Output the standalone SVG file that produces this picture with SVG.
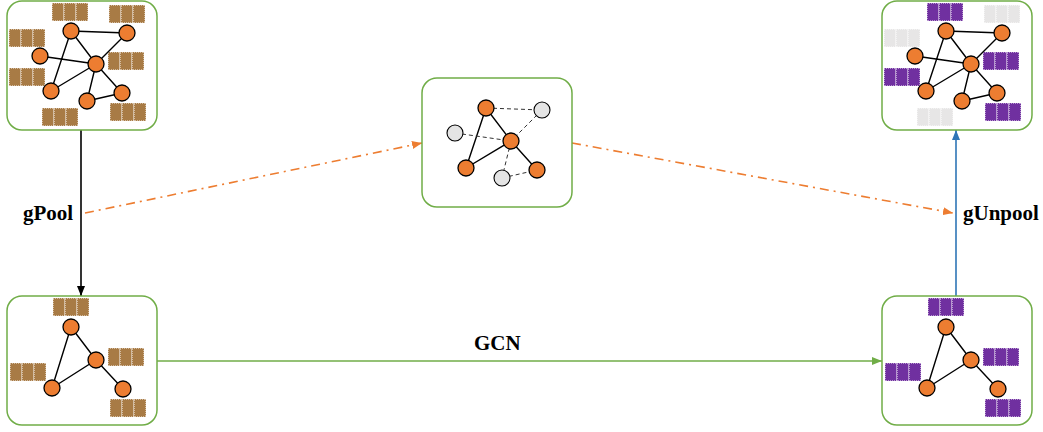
<svg xmlns="http://www.w3.org/2000/svg" xmlns:xlink="http://www.w3.org/1999/xlink" width="1043" height="432" viewBox="0 0 1043 432">
<style>
.box{fill:#fff;stroke:#70AD47;stroke-width:1.5}
.e{stroke:#000;stroke-width:1.4;fill:none}
.d{stroke:#333;stroke-width:1;stroke-dasharray:4,3;fill:none}
.n{fill:#ED7D31;stroke:#000;stroke-width:1.3}
.g{fill:#E4E4E4;stroke:#000;stroke-width:1.1}
.br{fill:#A87B45}
.pu{fill:#7030A0}
.gy{fill:#E7E6E6}
.lbl{font-family:"Liberation Serif",serif;font-weight:bold;font-size:21px;fill:#000}
</style>
<defs>
<g id="blk" stroke="#fff" stroke-width="1" stroke-dasharray="1,1">
<rect x="0" y="0" width="12" height="18"/>
<rect x="12" y="0" width="12" height="18"/>
<rect x="24" y="0" width="12" height="18"/>
</g>
<marker id="mk" markerUnits="userSpaceOnUse" markerWidth="10" markerHeight="8" refX="10" refY="4" orient="auto"><path d="M0,0 L10,4 L0,8 z" fill="#000"/></marker>
<marker id="mb" markerUnits="userSpaceOnUse" markerWidth="10" markerHeight="8" refX="10" refY="4" orient="auto"><path d="M0,0 L10,4 L0,8 z" fill="#2E75B6"/></marker>
<marker id="mg" markerUnits="userSpaceOnUse" markerWidth="10" markerHeight="8" refX="10" refY="4" orient="auto"><path d="M0,0 L10,4 L0,8 z" fill="#70AD47"/></marker>
<marker id="mo" markerUnits="userSpaceOnUse" markerWidth="10" markerHeight="8" refX="10" refY="4" orient="auto"><path d="M0,0 L10,4 L0,8 z" fill="#ED7D31"/></marker>
</defs>

<g id="connectors">
<line x1="81" y1="130" x2="81" y2="296" stroke="#000" stroke-width="1.6" marker-end="url(#mk)"/>
<line x1="956" y1="296" x2="956" y2="130" stroke="#2E75B6" stroke-width="1.6" marker-end="url(#mb)"/>
<line x1="157" y1="361" x2="882" y2="361" stroke="#70AD47" stroke-width="1.6" marker-end="url(#mg)"/>
<line x1="85" y1="213" x2="422" y2="143" stroke="#ED7D31" stroke-width="1.6" stroke-dasharray="9,5,2,5" marker-end="url(#mo)"/>
<line x1="572" y1="143" x2="953" y2="213" stroke="#ED7D31" stroke-width="1.6" stroke-dasharray="9,5,2,5" marker-end="url(#mo)"/>
<text class="lbl" x="23" y="220">gPool</text>
<text class="lbl" x="963" y="220">gUnpool</text>
<text class="lbl" x="474" y="350">GCN</text>
</g>

<g id="node-input" transform="translate(7,0)">
<rect class="box" x="0" y="1" width="150" height="129" rx="15"/>
<use xlink:href="#blk" x="45" y="3" class="br"/>
<use xlink:href="#blk" x="102" y="5" class="br"/>
<use xlink:href="#blk" x="2" y="29" class="br"/>
<use xlink:href="#blk" x="101" y="52" class="br"/>
<use xlink:href="#blk" x="2" y="68" class="br"/>
<use xlink:href="#blk" x="35" y="108" class="br"/>
<use xlink:href="#blk" x="103" y="103" class="br"/>
<path class="e" d="M64,31 L120,33 M64,31 L89,64 M64,31 L44,91 M120,33 L89,64 M33,56 L89,64 M89,64 L44,91 M89,64 L80,101 M89,64 L115,93 M80,101 L115,93"/>
<circle class="n" cx="64" cy="31" r="8"/>
<circle class="n" cx="120" cy="33" r="8"/>
<circle class="n" cx="33" cy="56" r="8"/>
<circle class="n" cx="89" cy="64" r="8"/>
<circle class="n" cx="44" cy="91" r="8"/>
<circle class="n" cx="80" cy="101" r="8"/>
<circle class="n" cx="115" cy="93" r="8"/>
</g>

<g id="node-output" transform="translate(882,0)">
<rect class="box" x="0" y="1" width="150" height="129" rx="15"/>
<use xlink:href="#blk" x="45" y="3" class="pu"/>
<use xlink:href="#blk" x="102" y="5" class="gy"/>
<use xlink:href="#blk" x="2" y="29" class="gy"/>
<use xlink:href="#blk" x="101" y="52" class="pu"/>
<use xlink:href="#blk" x="2" y="68" class="pu"/>
<use xlink:href="#blk" x="35" y="108" class="gy"/>
<use xlink:href="#blk" x="103" y="103" class="pu"/>
<path class="e" d="M64,31 L120,33 M64,31 L89,64 M64,31 L44,91 M120,33 L89,64 M33,56 L89,64 M89,64 L44,91 M89,64 L80,101 M89,64 L115,93 M80,101 L115,93"/>
<circle class="n" cx="64" cy="31" r="8"/>
<circle class="n" cx="120" cy="33" r="8"/>
<circle class="n" cx="33" cy="56" r="8"/>
<circle class="n" cx="89" cy="64" r="8"/>
<circle class="n" cx="44" cy="91" r="8"/>
<circle class="n" cx="80" cy="101" r="8"/>
<circle class="n" cx="115" cy="93" r="8"/>
</g>

<g id="node-pooled-graph" transform="translate(415,77)">
<rect class="box" x="7" y="1" width="150" height="129" rx="15"/>
<g transform="translate(7,0)">
<path class="e" d="M64,31 L89,64 M64,31 L44,91 M89,64 L44,91 M89,64 L115,93"/>
<path class="d" d="M64,31 L120,33 M120,33 L89,64 M33,56 L89,64 M89,64 L80,101 M80,101 L115,93"/>
<circle class="n" cx="64" cy="31" r="8"/>
<circle class="g" cx="120" cy="33" r="8"/>
<circle class="g" cx="33" cy="56" r="8"/>
<circle class="n" cx="89" cy="64" r="8"/>
<circle class="n" cx="44" cy="91" r="8"/>
<circle class="g" cx="80" cy="101" r="8"/>
<circle class="n" cx="115" cy="93" r="8"/>
</g>
</g>

<g id="node-pooled" transform="translate(7,295)">
<rect class="box" x="0" y="1" width="150" height="129" rx="15"/>
<use xlink:href="#blk" x="46" y="3" class="br"/>
<use xlink:href="#blk" x="101" y="53" class="br"/>
<use xlink:href="#blk" x="3" y="68" class="br"/>
<use xlink:href="#blk" x="103" y="104" class="br"/>
<path class="e" d="M64,32 L89,65 M64,32 L45,93 M89,65 L45,93 M89,65 L116,94"/>
<circle class="n" cx="64" cy="32" r="8"/>
<circle class="n" cx="89" cy="65" r="8"/>
<circle class="n" cx="45" cy="93" r="8"/>
<circle class="n" cx="116" cy="94" r="8"/>
</g>

<g id="node-gcn-out" transform="translate(882,295)">
<rect class="box" x="0" y="1" width="150" height="129" rx="15"/>
<use xlink:href="#blk" x="46" y="3" class="pu"/>
<use xlink:href="#blk" x="101" y="53" class="pu"/>
<use xlink:href="#blk" x="3" y="68" class="pu"/>
<use xlink:href="#blk" x="103" y="104" class="pu"/>
<path class="e" d="M64,32 L89,65 M64,32 L45,93 M89,65 L45,93 M89,65 L116,94"/>
<circle class="n" cx="64" cy="32" r="8"/>
<circle class="n" cx="89" cy="65" r="8"/>
<circle class="n" cx="45" cy="93" r="8"/>
<circle class="n" cx="116" cy="94" r="8"/>
</g>
</svg>
